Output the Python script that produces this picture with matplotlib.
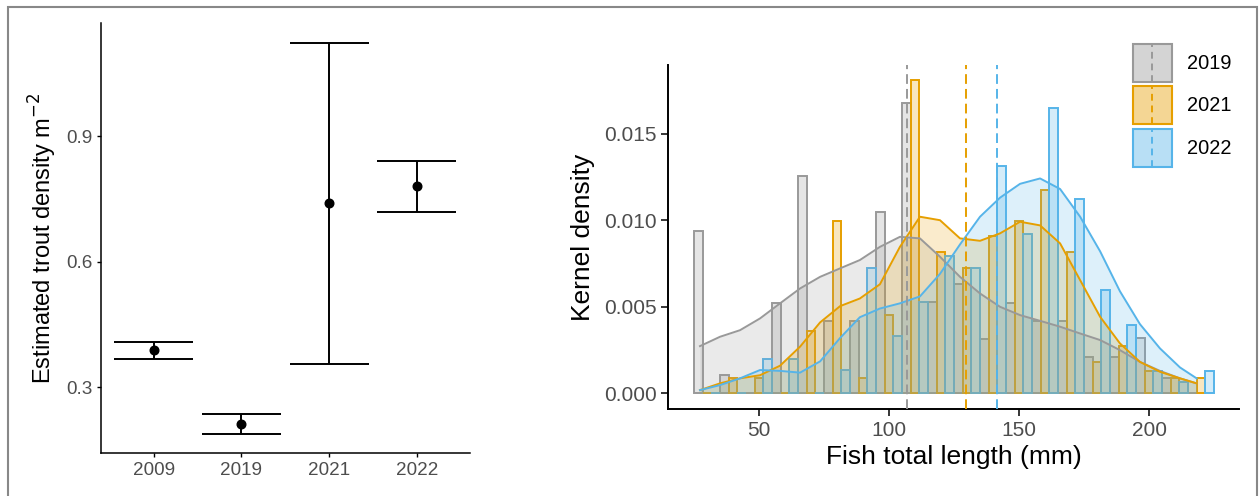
import matplotlib
matplotlib.use("Agg")
import matplotlib.pyplot as plt
from matplotlib.patches import Patch, Rectangle
from matplotlib.lines import Line2D
from matplotlib.legend_handler import HandlerBase
from matplotlib.colors import to_rgba
import numpy as np

plt.rcParams['font.family'] = ['Liberation Sans', 'DejaVu Sans']

# ---- trout density estimates (left panel)
survey_years = ["2009", "2019", "2021", "2022"]
density_est = [0.388, 0.212, 0.740, 0.780]
density_lo = [0.368, 0.189, 0.356, 0.719]
density_hi = [0.408, 0.236, 1.123, 0.840]

# ---- length frequency (right panel)
length_years = ["2019", "2021", "2022"]
bin_starts = [25, 35, 45, 55, 65, 75, 85, 95, 105, 115,
              125, 135, 145, 155, 165, 175, 185, 195, 205, 215]
bin_width = 10
hist_2019 = [0.00940, 0.00106, 0.0, 0.00523, 0.01255, 0.00419, 0.00419, 0.01047, 0.01678, 0.00525,
             0.00630, 0.00316, 0.00524, 0.00420, 0.00420, 0.00211, 0.00211, 0.00318, 0.00090, 0.0]
hist_2021 = [0.0, 0.00087, 0.00087, 0.0, 0.00360, 0.00995, 0.00090, 0.00452, 0.01809, 0.00817,
             0.00723, 0.00906, 0.00996, 0.01174, 0.00816, 0.00182, 0.00273, 0.00130, 0.00087, 0.00087]
hist_2022 = [0.0, 0.0, 0.00196, 0.00196, 0.0, 0.00135, 0.00725, 0.00333, 0.00525, 0.00793,
             0.00723, 0.01315, 0.00922, 0.01646, 0.01120, 0.00596, 0.00394, 0.00130, 0.00067, 0.00130]

kde_x = [27.3, 35.0, 42.7, 50.4, 58.1, 65.8, 73.5, 81.2, 88.8, 96.5, 104.2, 111.9, 119.6,
         127.3, 135.0, 142.7, 150.4, 158.1, 165.8, 173.5, 181.2, 188.8, 196.5, 204.2, 211.9, 218.3]
kde_2019 = [0.00273, 0.00327, 0.00365, 0.00433, 0.00520, 0.00606, 0.00673, 0.00722, 0.00770,
            0.00846, 0.00904, 0.00895, 0.00789, 0.00673, 0.00577, 0.00500, 0.00452, 0.00419,
            0.00385, 0.00346, 0.00308, 0.00250, 0.00182, 0.00130, 0.00087, 0.00058]
kde_2021 = [0.00019, 0.00058, 0.00087, 0.00105, 0.00160, 0.00270, 0.00410, 0.00504, 0.00548,
            0.00630, 0.00846, 0.01020, 0.01000, 0.00895, 0.00881, 0.00924, 0.00991, 0.00970,
            0.00866, 0.00654, 0.00442, 0.00289, 0.00182, 0.00125, 0.00087, 0.00058]
kde_2022 = [0.00019, 0.00048, 0.00087, 0.00135, 0.00130, 0.00120, 0.00185, 0.00320, 0.00440,
            0.00490, 0.00520, 0.00560, 0.00690, 0.00860, 0.01020, 0.01130, 0.01210, 0.01241,
            0.01180, 0.01020, 0.00820, 0.00590, 0.00400, 0.00260, 0.00150, 0.00087]
mean_length = [106.8, 129.6, 141.5]

cols = ["#999999", "#E69F00", "#56B4E9"]
tick_grey = "#4D4D4D"


class KeyHandler(HandlerBase):
    # filled box with the dashed mean line through the middle
    def create_artists(self, legend, orig_handle, xdescent, ydescent,
                       width, height, fontsize, trans):
        c = orig_handle.get_edgecolor()
        box = Rectangle((-xdescent, -ydescent), width, height,
                        facecolor=orig_handle.get_facecolor(), edgecolor=c,
                        lw=1.5, transform=trans)
        mid = -xdescent + width / 2
        dash = Line2D([mid, mid], [-ydescent, -ydescent + height], color=c,
                      lw=1.4, ls=(0, (3.5, 2.5)), transform=trans)
        return [box, dash]


W, H = 1259, 496
fig = plt.figure(figsize=(W / 100, H / 100), dpi=100)

# left panel
ax1 = fig.add_axes([101 / W, 1 - 453.3 / H, 368.5 / W, 430 / H])
xpos = np.arange(1, len(survey_years) + 1)
ax1.vlines(xpos, density_lo, density_hi, color="black", lw=1.4)
ax1.hlines(density_lo, xpos - 0.45, xpos + 0.45, color="black", lw=1.4)
ax1.hlines(density_hi, xpos - 0.45, xpos + 0.45, color="black", lw=1.4)
ax1.plot(xpos, density_est, "o", color="black", ms=6.2)
ax1.set_xlim(0.4, 4.6)
ax1.set_ylim(0.1419, 1.17)
ax1.set_xticks(xpos)
ax1.set_xticklabels(survey_years)
ax1.set_yticks([0.3, 0.6, 0.9])
ax1.set_yticklabels(["0.3", "0.6", "0.9"])
ax1.set_ylabel("Estimated trout density m$^{-2}$", fontsize=17, labelpad=5)
for s in ["top", "right"]:
    ax1.spines[s].set_visible(False)
for s in ["left", "bottom"]:
    ax1.spines[s].set_linewidth(1.1)
ax1.tick_params(length=3.2, width=1.0, labelsize=13.6, labelcolor=tick_grey, pad=3)

# right panel
ax2 = fig.add_axes([668 / W, 1 - 409 / H, 571 / W, 344 / H])
for g, (yr, vals) in enumerate(zip(length_years, [hist_2019, hist_2021, hist_2022])):
    xs = [b + (g + 0.5) * bin_width / 3 for b in bin_starts]
    ax2.bar(xs, vals, width=bin_width / 3, facecolor=to_rgba(cols[g], 0.25),
            edgecolor=cols[g], lw=1.4, zorder=2)
for g, kde in enumerate([kde_2019, kde_2021, kde_2022]):
    ax2.fill_between(kde_x, 0, kde, color=cols[g], alpha=0.2, lw=0, zorder=3)
    ax2.plot(kde_x, kde, color=cols[g], lw=1.4, zorder=4)
for g, m in enumerate(mean_length):
    ax2.axvline(m, color=cols[g], lw=1.4, ls=(0, (5, 2.6)), zorder=5)

ax2.set_xlim(15, 234.6)
ax2.set_ylim(-0.0009, 0.01896)
ax2.set_xticks([50, 100, 150, 200])
ax2.set_yticks([0.0, 0.005, 0.010, 0.015])
ax2.set_yticklabels(["0.000", "0.005", "0.010", "0.015"])
ax2.set_xlabel("Fish total length (mm)", fontsize=19, labelpad=4)
ax2.set_ylabel("Kernel density", fontsize=19, labelpad=6)
for s in ["top", "right"]:
    ax2.spines[s].set_visible(False)
for s in ["left", "bottom"]:
    ax2.spines[s].set_linewidth(1.4)
ax2.tick_params(length=4.8, width=1.1, labelsize=15, labelcolor=tick_grey, pad=3.5)

handles = [Patch(facecolor=to_rgba(c, 0.42), edgecolor=c) for c in cols]
ax2.legend(handles, length_years, handler_map={Patch: KeyHandler()},
           loc="upper left", bbox_to_anchor=(1132.7 / W, 1 - 44 / H),
           bbox_transform=fig.transFigure, frameon=False, fontsize=14.4,
           borderpad=0, borderaxespad=0, handlelength=1.95, handleheight=2.55,
           labelspacing=0.21, handletextpad=0.75)

# grey frame around both panels
fig.add_artist(Rectangle((8 / W, -0.1), 1249 / W, 1.1 - 7 / H, transform=fig.transFigure,
                         fill=False, edgecolor="#888888", lw=1.5))

fig.savefig("out.png", dpi=100)
